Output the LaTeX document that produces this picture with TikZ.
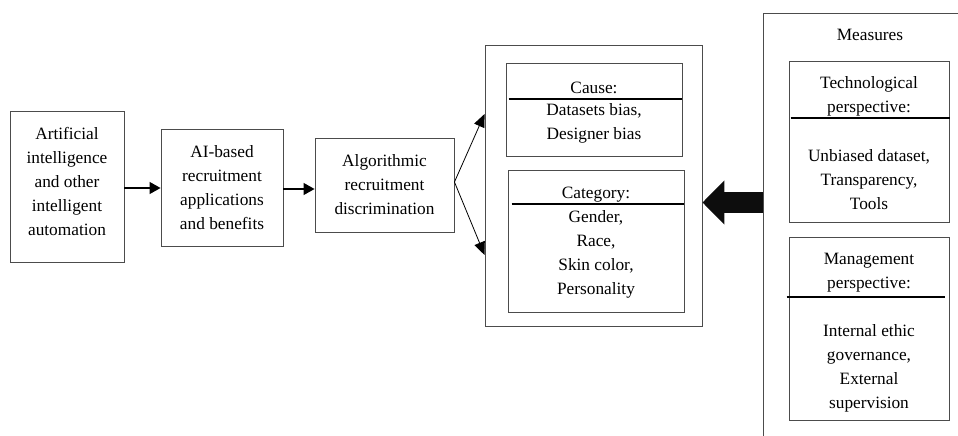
\documentclass[tikz,border=0pt]{standalone}
\usepackage{fontspec}
\setmainfont{Liberation Serif}
\usetikzlibrary{arrows.meta}
\tikzset{
  box/.style={draw=black!70, line width=0.9pt, align=center, inner sep=0pt},
  txt/.style={align=center, inner sep=0pt},
  divider/.style={line width=1.6pt, black},
  conn/.style={line width=1.3pt, -{Triangle[length=11pt 0 0,width=12pt 0 0]}},
  fork/.style={line width=0.8pt, -{Triangle[length=13pt 0 0,width=11pt 0 0]}},
}
\begin{document}
\begin{tikzpicture}[x=1pt,y=-1pt, every node/.style={font=\fontsize{17.3}{24}\selectfont}]
\useasboundingbox (0,0) rectangle (958,436);
% left chain
\node[box, minimum width=114pt, minimum height=151pt] (b1) at (67,186.5) {};
\node[txt] (b1T) at (67,181.5)
  {Artificial\\intelligence\\and other\\intelligent\\automation};
\node[box, minimum width=122pt, minimum height=117pt] (b2) at (222,187.5)
  {AI-based\\recruitment\\applications\\and benefits};
\node[box, minimum width=139pt, minimum height=94pt] (b3) at (384.5,185)
  {Algorithmic\\recruitment\\discrimination};
% outer box with cause and category
\node[box, minimum width=217pt, minimum height=281pt] (outer) at (593.5,185.5) {};
\node[box, minimum width=176pt, minimum height=93pt] (cause) at (594,109.5) {};
\node[box, minimum width=176pt, minimum height=142pt] (cat) at (596,241) {};
\node[txt] (causeT) at (594,88) {Cause:};
\node[txt] (causeB) at (594,123) {Datasets bias,\\Designer bias};
\node[txt] (catT) at (596,195) {Category:};
\node[txt] (catB) at (596,254) {Gender,\\Race,\\Skin color,\\Personality};
\draw[divider] ([xshift=3pt]cause.west |- 0,99) -- (cause.east |- 0,99);
\draw[divider] ([xshift=4pt]cat.west |- 0,204) -- (cat.east |- 0,204);
% measures
\coordinate (mBL) at (763,436);
\coordinate (mTL) at (763,13);
\coordinate (mTR) at (958,13);
\draw[draw=black!70, line width=0.9pt] (mBL) -- (mTL) -- (mTR);
\node[txt] (meas) at (870,35) {Measures};
\node[box, minimum width=160pt, minimum height=161pt] (tech) at (869,141.5) {};
\node[box, minimum width=160pt, minimum height=183pt] (mgmt) at (869,328.5) {};
\node[txt] (techT) at (869,96) {Technological\\perspective:};
\node[txt] (techB) at (869,180) {Unbiased dataset,\\Transparency,\\Tools};
\node[txt] (mgmtT) at (869,273) {Management\\perspective:};
\node[txt] (mgmtB) at (869,368) {Internal ethic\\governance,\\External\\supervision};
\draw[divider] ([xshift=2pt]tech.west |- 0,118) -- ([xshift=1pt]tech.east |- 0,118);
\draw[divider] ([xshift=-2pt]mgmt.west |- 0,297) -- ([xshift=-4pt]mgmt.east |- 0,297);
% connectors
\draw[conn] (b1.east |- 0,188) -- (b2.west |- 0,188);
\draw[conn] (b2.east |- 0,189) -- (b3.west |- 0,189);
\coordinate (apex) at (b3.east |- 0,182);
\draw[fork] (apex) -- (outer.west |- 0,114);
\draw[fork] (apex) -- (outer.west |- 0,255);
\coordinate (bigS) at (mTL |- 0,202.5);
\coordinate (bigE) at (outer.east |- 0,202.5);
\draw[line width=21pt, black!95, -{Triangle[length=22pt 0 0,width=43pt 0 0]}] (bigS) -- (bigE);
\end{tikzpicture}
\end{document}
